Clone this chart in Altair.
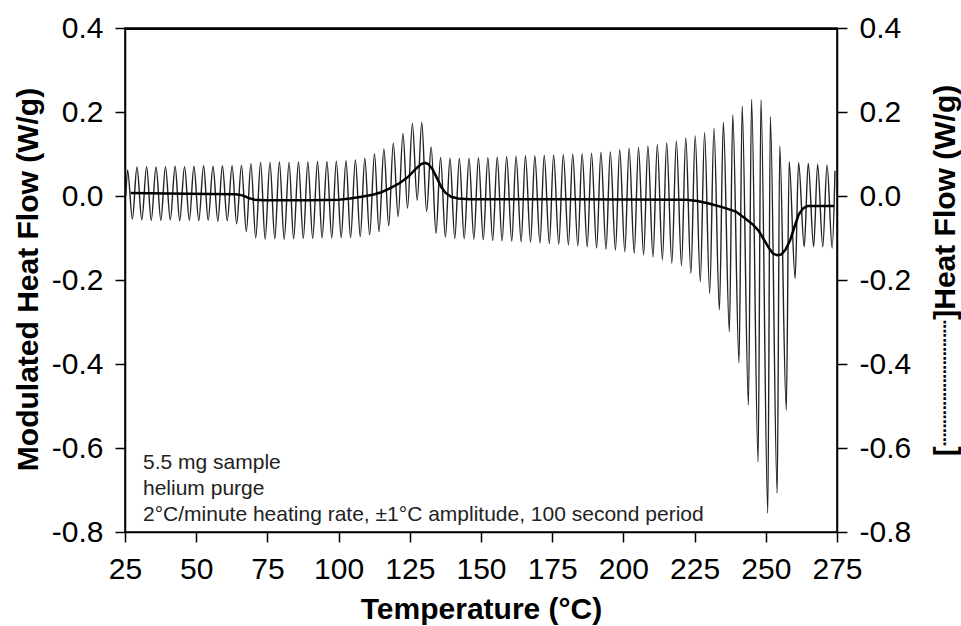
import altair as alt
import pandas as pd

# ---- Modulated heat flow: peaks and troughs of each modulation cycle
peak_temps = [25.9, 29.2, 32.6, 35.9, 39.2, 42.6, 45.9, 49.2, 52.6, 55.9,
              59.2, 62.6, 65.9, 69.2, 72.6, 75.9, 79.2, 82.6, 85.9, 89.2,
              92.6, 95.9, 99.2, 102.6, 105.9, 109.2, 112.6, 115.9, 119.2, 122.6,
              125.9, 129.2, 132.5, 135.8, 139.1, 142.4, 145.8, 149.1, 152.4, 155.7,
              159.0, 162.3, 165.6, 168.9, 172.2, 175.5, 178.9, 182.2, 185.5, 188.8,
              192.1, 195.4, 198.7, 202.0, 205.3, 208.6, 211.9, 215.2, 218.6, 221.9,
              225.2, 228.5, 231.8, 235.1, 238.4, 241.7, 245.0, 248.3, 251.6, 254.9,
              258.2, 261.5, 264.9, 268.2, 271.5]
peak_vals = [0.062, 0.069, 0.070, 0.069, 0.070, 0.071, 0.070, 0.071, 0.072, 0.071,
             0.072, 0.072, 0.073, 0.077, 0.080, 0.080, 0.081, 0.080, 0.081, 0.081,
             0.082, 0.082, 0.083, 0.084, 0.086, 0.090, 0.101, 0.112, 0.126, 0.149,
             0.173, 0.175, 0.117, 0.092, 0.090, 0.090, 0.090, 0.091, 0.092, 0.093,
             0.094, 0.095, 0.096, 0.096, 0.097, 0.098, 0.099, 0.100, 0.101, 0.102,
             0.104, 0.105, 0.110, 0.114, 0.115, 0.119, 0.123, 0.127, 0.131, 0.138,
             0.143, 0.151, 0.161, 0.175, 0.193, 0.214, 0.230, 0.229, 0.189, 0.119,
             0.082, 0.080, 0.078, 0.076, 0.074]
trough_temps = [27.6, 30.9, 34.2, 37.6, 40.9, 44.2, 47.6, 50.9, 54.2, 57.6,
                60.9, 64.2, 67.6, 70.9, 74.2, 77.6, 80.9, 84.2, 87.6, 90.9,
                94.2, 97.6, 100.9, 104.2, 107.6, 110.9, 114.2, 117.6, 120.9, 124.2,
                127.6, 130.9, 134.2, 137.5, 140.8, 144.1, 147.5, 150.8, 154.1, 157.4,
                160.8, 164.1, 167.4, 170.7, 174.0, 177.3, 180.7, 184.0, 187.3, 190.6,
                193.9, 197.2, 200.5, 203.8, 207.1, 210.4, 213.7, 217.0, 220.4, 223.7,
                227.0, 230.3, 233.7, 237.2, 240.6, 243.9, 247.3, 250.7, 254.0, 257.2,
                260.3, 263.5, 266.8, 270.0, 273.3]
trough_vals = [-0.055, -0.057, -0.058, -0.058, -0.057, -0.059, -0.058, -0.059, -0.058, -0.060,
               -0.059, -0.066, -0.085, -0.100, -0.103, -0.102, -0.103, -0.102, -0.101, -0.101,
               -0.100, -0.100, -0.099, -0.099, -0.097, -0.093, -0.085, -0.071, -0.049, -0.029,
               -0.010, -0.037, -0.089, -0.098, -0.101, -0.102, -0.103, -0.104, -0.106, -0.107,
               -0.108, -0.109, -0.110, -0.112, -0.113, -0.115, -0.117, -0.119, -0.121, -0.124,
               -0.127, -0.129, -0.133, -0.136, -0.140, -0.145, -0.152, -0.160, -0.166, -0.184,
               -0.204, -0.232, -0.271, -0.323, -0.397, -0.498, -0.633, -0.755, -0.708, -0.510,
               -0.196, -0.121, -0.121, -0.121, -0.124]
edge_temps = [25.3, 274.3]
edge_vals = [0.0, 0.06]

# ---- (Total) heat flow curve
rev_temps = [27.0, 40.0, 55.0, 64.0, 66.5, 68.5, 70.5, 74.0, 90.0, 100.0,
             104.0, 108.0, 112.0, 115.0, 118.0, 121.5, 124.5, 127.0, 129.0, 130.3,
             131.5, 133.0, 134.5, 136.0, 137.5, 139.5, 142.0, 146.0, 180.0, 222.0,
             226.0, 230.0, 235.0, 239.5, 243.0, 245.5, 247.5, 249.0, 251.0, 252.5,
             254.0, 255.5, 257.0, 258.5, 260.0, 261.5, 263.0, 264.5, 274.0]
rev_vals = [0.007, 0.006, 0.005, 0.004, 0.001, -0.005, -0.009, -0.010, -0.010, -0.009,
            -0.006, -0.002, 0.003, 0.009, 0.018, 0.031, 0.046, 0.064, 0.076, 0.079,
            0.076, 0.063, 0.043, 0.022, 0.008, -0.002, -0.006, -0.008, -0.008, -0.009,
            -0.012, -0.018, -0.027, -0.037, -0.055, -0.068, -0.083, -0.100, -0.123, -0.137,
            -0.141, -0.139, -0.127, -0.106, -0.075, -0.045, -0.030, -0.024, -0.024]

x_ticks = [25, 50, 75, 100, 125, 150, 175, 200, 225, 250, 275]
y_ticks = [-0.8, -0.6, -0.4, -0.2, 0.0, 0.2, 0.4]
notes = ["5.5 mg sample", "helium purge",
         "2°C/minute heating rate, ±1°C amplitude, 100 second period"]

mod = pd.DataFrame({"T": peak_temps + trough_temps + edge_temps,
                    "v": peak_vals + trough_vals + edge_vals}).sort_values("T")
rev = pd.DataFrame({"T": rev_temps, "v": rev_vals})

FONT = "Liberation Sans"
W, H = 712, 504
xscale = alt.Scale(domain=[25, 275], nice=False, zero=False)
yscale = alt.Scale(domain=[-0.8, 0.4], nice=False, zero=False)
label_expr = ("datum.value < -0.001 ? '-' + format(-datum.value, '.1f') : "
              "format(abs(datum.value), '.1f')")

common = dict(domainColor="black", domainWidth=1.5, tickColor="black", tickWidth=1.5,
              tickSize=10, labelFont=FONT, labelFontSize=30, labelColor="black",
              titleFont=FONT + ", DejaVu Sans", titleFontSize=30, titleFontWeight="bold",
              titleColor="black", grid=False)

x_axis = alt.Axis(title="Temperature (°C)", values=x_ticks, labelPadding=12,
                  labelFlush=False, titleY=77, titleBaseline="middle", **common)
left_axis = alt.Axis(orient="left", title="Modulated Heat Flow (W/g)", values=y_ticks,
                     labelExpr=label_expr, labelPadding=12, titleAngle=270,
                     titleX=-97, titleY=251, titleBaseline="middle", titleAlign="center",
                     **common)
right_axis = alt.Axis(orient="right", title="[┈┈┈┈┈┈┈]Heat Flow (W/g)", values=y_ticks,
                      labelExpr=label_expr, labelPadding=12, titleAngle=270,
                      titleX=108, titleY=242, titleBaseline="middle", titleAlign="center",
                      **common)

mod_line = alt.Chart(mod).mark_line(interpolate="monotone", color="#222", strokeWidth=1.4).encode(
    x=alt.X("T:Q", scale=xscale, axis=x_axis),
    y=alt.Y("v:Q", scale=yscale, axis=left_axis),
)
rev_line = alt.Chart(rev).mark_line(color="black", strokeWidth=2.5).encode(
    x=alt.X("T:Q", scale=xscale, axis=x_axis),
    y=alt.Y("v:Q", scale=yscale, axis=right_axis),
)
# top edge of the plot frame
frame_top = alt.Chart(pd.DataFrame({"n": [0]})).mark_rule(color="black", strokeWidth=2).encode(
    x=alt.value(0), x2=alt.value(W), y=alt.value(1), y2=alt.value(1)
)
note = alt.Chart(pd.DataFrame({"n": [0]})).mark_text(
    align="left", baseline="middle", font=FONT, fontSize=21, lineHeight=26, color="#222"
).encode(x=alt.value(18), y=alt.value(435), text=alt.value(notes))

chart = alt.layer(mod_line, rev_line, frame_top, note).resolve_scale(y="independent").properties(
    width=W, height=H,
    background="white",
    autosize=alt.AutoSizeParams(type="none"),
    padding={"left": 125, "top": 28, "right": 124, "bottom": 94},
).configure_view(stroke="black", strokeWidth=1.5)

chart.save("out.html", embed_options={"renderer": "svg", "actions": False})
